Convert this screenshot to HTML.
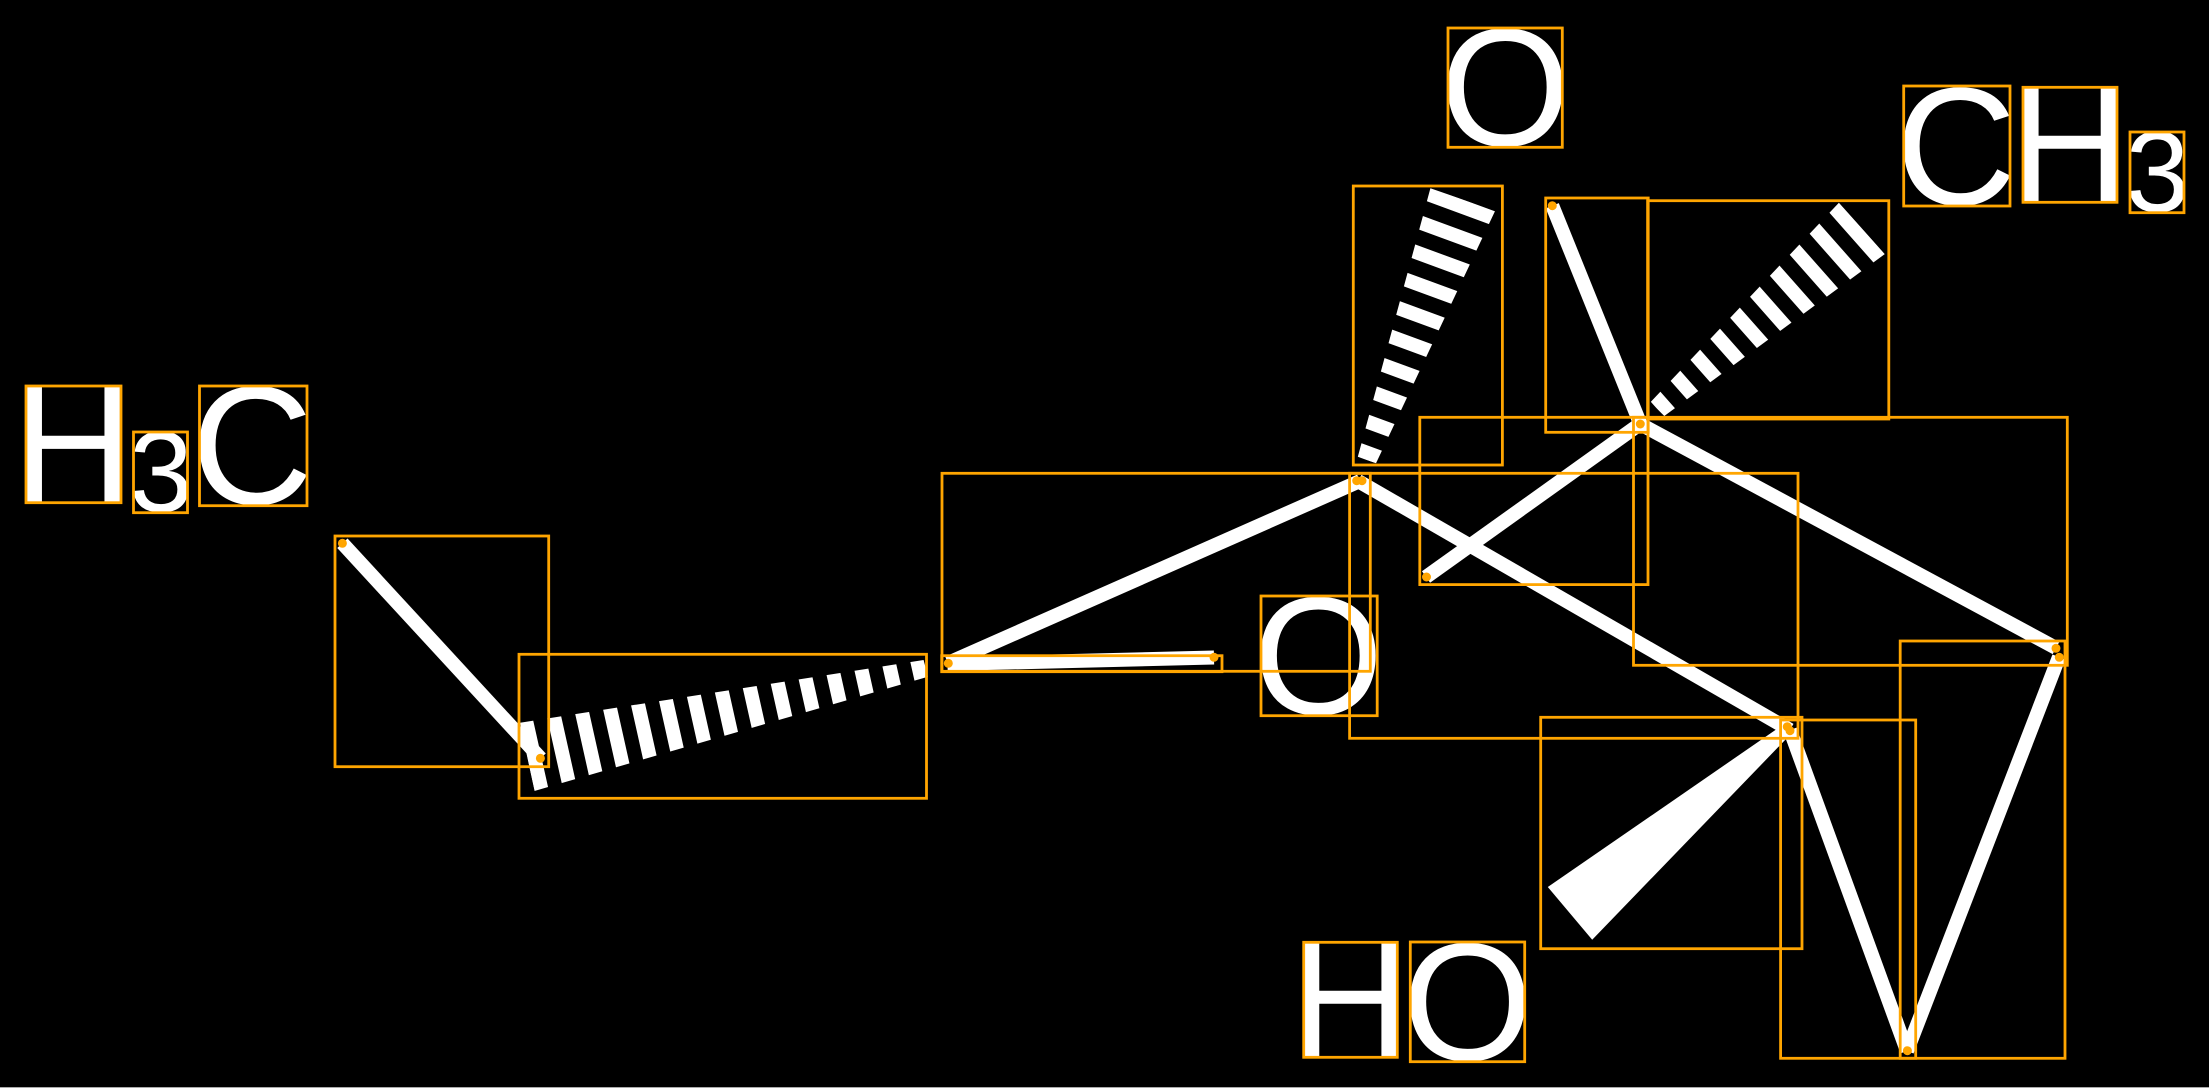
<!DOCTYPE html>
<html><head><meta charset="utf-8"><title>Molecule</title>
<style>html,body{margin:0;padding:0;background:#000;overflow:hidden}svg{display:block}</style></head>
<body>
<svg width="2209" height="1088" viewBox="0 0 2209 1088" xmlns="http://www.w3.org/2000/svg">
<defs>
<clipPath id="w1"><polygon points="520,722.7 534.4,791 928,676.7 923.6,660"/></clipPath>
<clipPath id="w2"><polygon points="1430.4,188.3 1495.2,210.7 1376,463.3 1357.7,457.3"/></clipPath>
<clipPath id="w3"><polygon points="1838.9,202.7 1884.9,254 1664.3,416 1650.4,402.3"/></clipPath>
</defs>
<rect width="2209" height="1088" fill="#000"/>
<rect y="1087" width="2209" height="1" fill="#aaa"/>
<g font-family="'Liberation Sans',sans-serif" fill="#fff" font-size="170">
<text x="12.5" y="502.5" font-size="168">H</text>
<text x="129" y="511.5" font-size="115">3</text>
<text x="191" y="504" font-size="169">C</text>
<text x="1440" y="145.5" font-size="168">O</text>
<text x="1895.2" y="204.5" font-size="168">C</text>
<text x="2009.3" y="202" font-size="167">H</text>
<text x="2125.5" y="211.5" font-size="115">3</text>
<text x="1253" y="714" font-size="168">O</text>
<text x="1290" y="1057" font-size="167">H</text>
<text x="1402.3" y="1060" font-size="168">O</text>
</g>
<g stroke="#fff" stroke-width="14" fill="none">
<line x1="342.4" y1="543.3" x2="540.6" y2="758.3"/>
<line x1="948" y1="663" x2="1360" y2="481"/>
<line x1="1358" y1="481" x2="1790" y2="730"/>
<line x1="1552.3" y1="205.7" x2="1640.4" y2="424"/>
<line x1="1640" y1="424" x2="1426" y2="577"/>
<line x1="1640" y1="424" x2="2056" y2="648"/>
<line x1="2059" y1="657" x2="1907" y2="1051"/>
<line x1="1790" y1="730" x2="1907" y2="1051"/>
<line x1="947.5" y1="664" x2="1214" y2="657.5"/>
</g>
<polygon points="1547.8,887 1592.2,939.7 1787,738 1787,722" fill="#fff"/>
<line x1="527" y1="757" x2="926" y2="668" stroke="#fff" stroke-width="90" stroke-dasharray="14 14.2" clip-path="url(#w1)"/>
<line x1="1462.8" y1="199.5" x2="1366.9" y2="460.3" stroke="#fff" stroke-width="90" stroke-dasharray="14 15.3" clip-path="url(#w2)"/>
<line x1="1861.9" y1="228.3" x2="1657.35" y2="409.15" stroke="#fff" stroke-width="90" stroke-dasharray="14 14.8" clip-path="url(#w3)"/>
<g fill="none" stroke="#ffa500" stroke-width="2.8">
<rect x="26" y="386" width="95" height="116.7"/>
<rect x="133.5" y="432" width="54" height="80.7"/>
<rect x="199.5" y="386" width="107.5" height="119.7"/>
<rect x="335" y="536" width="213.7" height="230.7"/>
<rect x="519" y="654.3" width="407.5" height="144"/>
<rect x="942" y="473.3" width="428.3" height="198"/>
<rect x="941.7" y="655.7" width="280.3" height="16"/>
<rect x="1261" y="596" width="116.2" height="119.7"/>
<rect x="1349.6" y="473.3" width="448.4" height="265"/>
<rect x="1353.3" y="186" width="149.1" height="279"/>
<rect x="1545.7" y="198" width="102.5" height="234.3"/>
<rect x="1647.6" y="200.7" width="241.2" height="218.3"/>
<rect x="1419.8" y="417.3" width="228.2" height="167.3"/>
<rect x="1633.5" y="417.3" width="433.8" height="248"/>
<rect x="1448" y="28" width="114.3" height="119.3"/>
<rect x="1903.7" y="86" width="106.3" height="120"/>
<rect x="2023" y="87.3" width="94" height="115"/>
<rect x="2130" y="132" width="54" height="80.7"/>
<rect x="1540.7" y="717.3" width="261.3" height="231.4"/>
<rect x="1780.6" y="720" width="135.1" height="338.3"/>
<rect x="1900.2" y="641" width="164.8" height="417.3"/>
<rect x="1303.7" y="942.3" width="93.6" height="115"/>
<rect x="1410.3" y="942" width="114.4" height="119.7"/>
</g>
<g fill="#ffa500">
<circle cx="342.4" cy="543.3" r="4.5"/>
<circle cx="540.4" cy="758.3" r="4.5"/>
<circle cx="948.3" cy="663.3" r="4.5"/>
<circle cx="1214" cy="657.3" r="4.5"/>
<circle cx="1356.7" cy="480.7" r="4.5"/>
<circle cx="1362" cy="480.7" r="4.5"/>
<circle cx="1552.3" cy="205.7" r="4.5"/>
<circle cx="1640.3" cy="424" r="4.5"/>
<circle cx="1426.5" cy="577" r="4.5"/>
<circle cx="2056" cy="648.3" r="4.5"/>
<circle cx="2059.3" cy="657.3" r="4.5"/>
<circle cx="1787.3" cy="726.7" r="4.5"/>
<circle cx="1790" cy="730.7" r="4.5"/>
<circle cx="1907.4" cy="1050.7" r="4.5"/>
</g>
</svg>
</body></html>
